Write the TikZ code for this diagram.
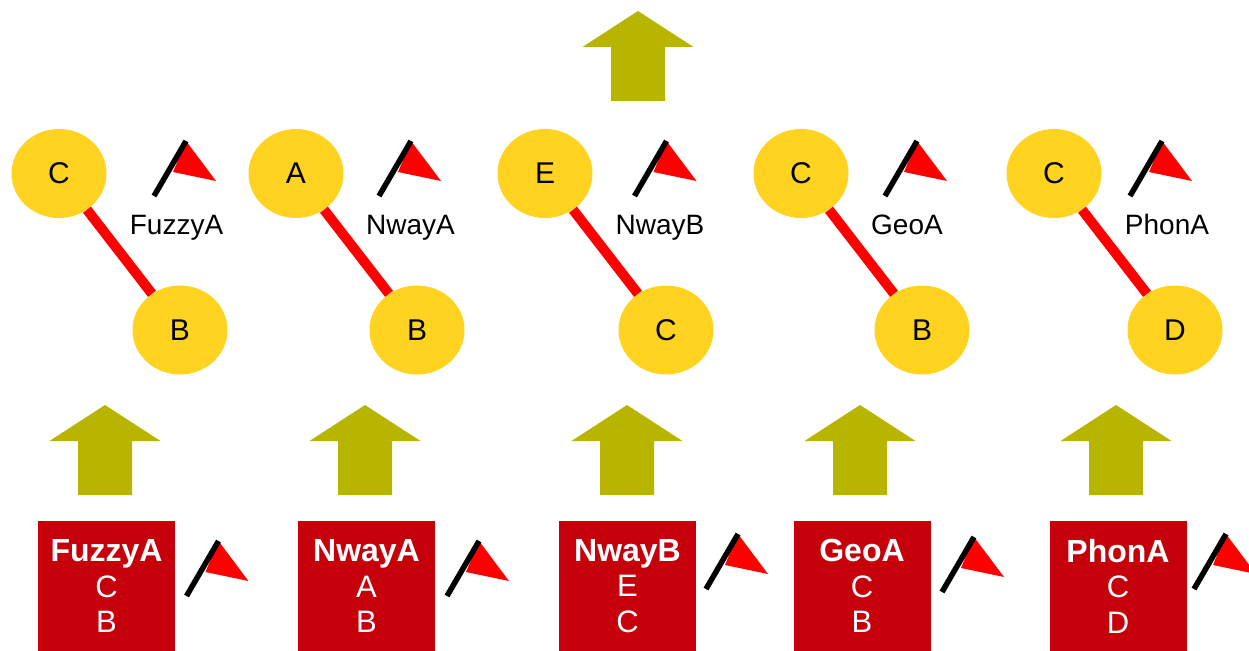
\documentclass[tikz,border=0pt]{standalone}
\usepackage{fontspec}
\setmainfont{Liberation Sans}
\usetikzlibrary{shapes.geometric}
\definecolor{yel}{HTML}{FFD320}
\definecolor{dred}{HTML}{C5000B}
\definecolor{oliv}{HTML}{B8B500}
\newcommand{\pxfont}[1]{\fontsize{#1}{#1}\selectfont}
\tikzset{
  x=1pt,y=-1pt,
  vertex/.style={ellipse,fill=yel,inner sep=0pt,minimum width=95pt,minimum height=89pt,font=\pxfont{30},text=black},
  link/.style={draw=red,line width=10pt},
  caption/.style={font=\pxfont{28},text=black,inner sep=0pt,anchor=base},
  table/.style={rectangle,fill=dred,text=white,minimum width=137pt,minimum height=131pt,inner sep=0pt,align=center,font=\pxfont{31}},
  pics/flag/.style={code={
    \fill[red] (0,0) -- (30,40) -- (-13,31) -- cycle;
    \draw[black,line width=5.5pt] (0,0) -- (-32,55);
  }},
  pics/uparrow/.style={code={
    \fill[oliv] (0,0) -- (55.5,36) -- (27,36) -- (27,90) -- (-27,90) -- (-27,36) -- (-55.5,36) -- cycle;
  }}
}
\newcommand{\tbl}[3]{{\pxfont{32}\textbf{#1}}\\[4.5pt]#2\\[4.5pt]#3}
\begin{document}
\begin{tikzpicture}
\useasboundingbox (0,0) rectangle (1249,650);
\clip (0,0) rectangle (1249,650);
\pic at (638,11) {uparrow};
% FuzzyA
\node[vertex] (a1) at (59,173.5) {C};
\node[vertex] (b1) at (180,330) {B};
\draw[link] (a1) -- (b1);
\pic at (186,141) {flag};
\node[caption] (c1) at (176.5,234) {FuzzyA};
\pic at (105,405) {uparrow};
\node[table] (t1) at (106.5,586) {\tbl{FuzzyA}{C}{B}};
\pic at (218.5,541) {flag};
% NwayA
\node[vertex] (a2) at (296,173.5) {A};
\node[vertex] (b2) at (417,330) {B};
\draw[link] (a2) -- (b2);
\pic at (411,141) {flag};
\node[caption] (c2) at (410.5,234) {NwayA};
\pic at (365,405) {uparrow};
\node[table] (t2) at (366.5,586) {\tbl{NwayA}{A}{B}};
\pic at (479,541) {flag};
% NwayB
\node[vertex] (a3) at (545,173.5) {E};
\node[vertex] (b3) at (666,330) {C};
\draw[link] (a3) -- (b3);
\pic at (666.5,141) {flag};
\node[caption] (c3) at (660,234) {NwayB};
\pic at (627,405) {uparrow};
\node[table] (t3) at (627.5,586) {\tbl{NwayB}{E}{C}};
\pic at (738,534) {flag};
% GeoA
\node[vertex] (a4) at (801,173.5) {C};
\node[vertex] (b4) at (922,330) {B};
\draw[link] (a4) -- (b4);
\pic at (917,141) {flag};
\node[caption] (c4) at (907,234) {GeoA};
\pic at (860,405) {uparrow};
\node[table] (t4) at (862,586) {\tbl{GeoA}{C}{B}};
\pic at (974,537) {flag};
% PhonA
\node[vertex] (a5) at (1054,173.5) {C};
\node[vertex] (b5) at (1175,330) {D};
\draw[link] (a5) -- (b5);
\pic at (1162,141) {flag};
\node[caption] (c5) at (1167,234) {PhonA};
\pic at (1116,405) {uparrow};
\node[table] (t5) at (1118,586) {\tbl{PhonA}{C}{D}};
\pic at (1226,534) {flag};
\end{tikzpicture}
\end{document}
